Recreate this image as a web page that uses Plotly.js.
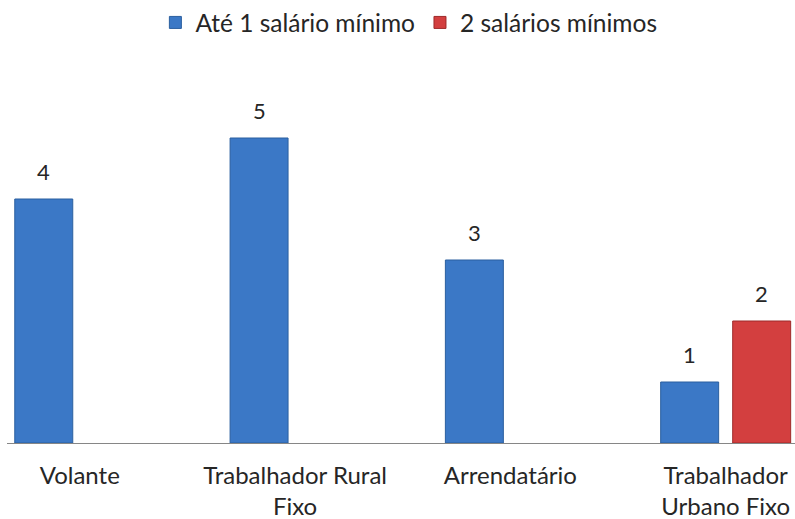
<!DOCTYPE html>
<html>
<head>
<meta charset="utf-8">
<script src="https://cdn.plot.ly/plotly-3.0.1.min.js"></script>
<style>html,body{margin:0;padding:0;background:#fff}#chart{width:795px;height:519px}</style>
</head>
<body>
<div id="chart"></div>
<script>
var categories = ["Volante", "Trabalhador Rural<br>Fixo", "Arrendatário", "Trabalhador<br>Urbano Fixo"];
var seriesNames = ["Até 1 salário mínimo", "2 salários mínimos"];
var ate1Salario = [4, 5, 3, 1];
var doisSalarios = [null, null, null, 2];

var fontFamily = "Lato, 'Open Sans', sans-serif";
var textColor = "#262626";

var W = 795, H = 519;
var margin = {l: 7, r: 0, t: 77, b: 76, pad: 0};
var xRange = [-0.338, 3.322];
var bargap = 0.331, bargroupgap = 0.195;

var traces = [
  {
    type: "bar", name: seriesNames[0], x: categories, y: ate1Salario,
    marker: {color: "#3b78c6", line: {color: "#2b5f9f", width: 1}},
    hoverinfo: "none"
  },
  {
    type: "bar", name: seriesNames[1], x: categories, y: doisSalarios,
    marker: {color: "#d33f3f", line: {color: "#9e2a2a", width: 1}},
    hoverinfo: "none"
  }
];

// value labels positioned over each bar via axis coordinates
var pxPerUnit = (W - margin.l - margin.r) / (xRange[1] - xRange[0]);
var barOffsetPx = (1 - bargap) / 4 * pxPerUnit;
var annotations = [];
[ate1Salario, doisSalarios].forEach(function(series, si) {
  series.forEach(function(v, i) {
    if (v === null) return;
    annotations.push({
      x: categories[i], y: v, xref: "x", yref: "y",
      text: String(v), showarrow: false, yanchor: "bottom",
      xshift: (si === 0 ? -1 : 1) * barOffsetPx, yshift: 12,
      font: {family: fontFamily, size: 22, color: textColor}
    });
  });
});

var layout = {
  width: W, height: H,
  margin: margin,
  paper_bgcolor: "#ffffff", plot_bgcolor: "#ffffff",
  font: {family: fontFamily, size: 24, color: textColor},
  barmode: "group", bargap: bargap, bargroupgap: bargroupgap,
  showlegend: true,
  legend: {orientation: "h", x: 0.51, xanchor: "center", y: 1.15, yanchor: "middle",
           font: {family: fontFamily, size: 24.5, color: textColor}, itemclick: false},
  xaxis: {
    type: "category", range: xRange, showline: true, linecolor: "#868686", linewidth: 1,
    ticks: "", showgrid: false, zeroline: false, ticklabelstandoff: 11,
    tickfont: {family: fontFamily, size: 24, color: textColor},
    fixedrange: true
  },
  yaxis: {range: [0, 6], visible: false, showgrid: false, zeroline: false, fixedrange: true},
  annotations: annotations
};

Plotly.newPlot("chart", traces, layout, {displayModeBar: false, staticPlot: true});
</script>
</body>
</html>
